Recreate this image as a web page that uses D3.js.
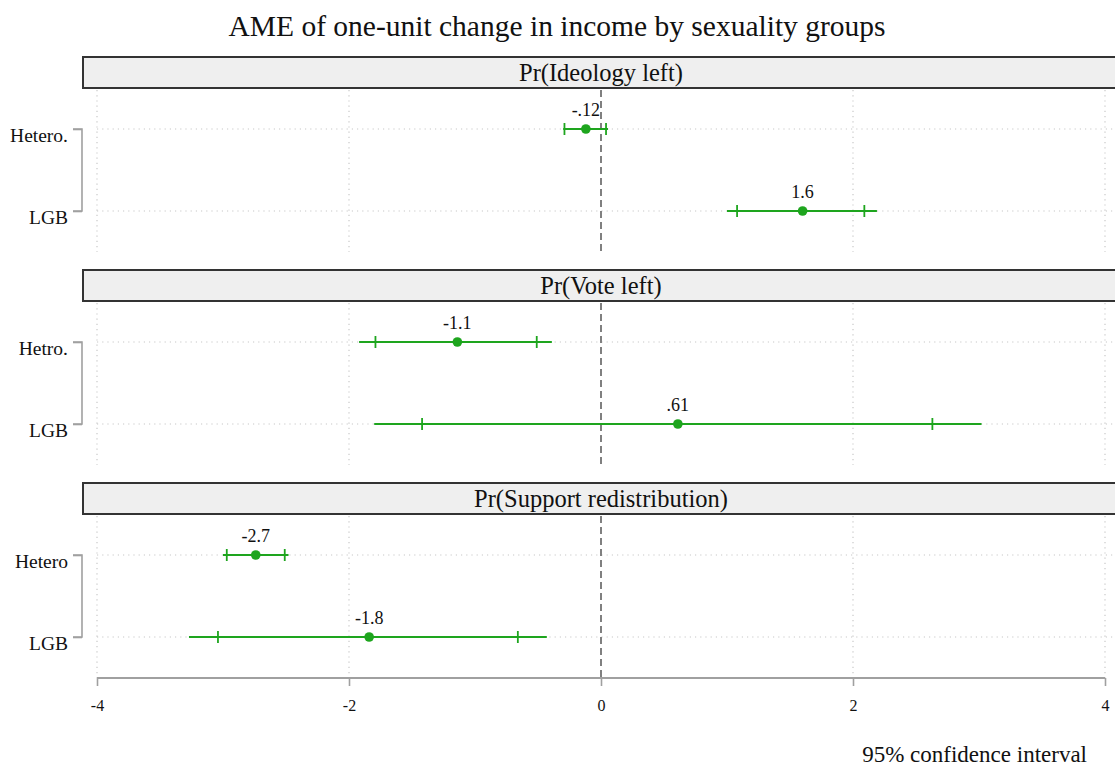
<!DOCTYPE html>
<html>
<head>
<meta charset="utf-8">
<script src="https://cdn.jsdelivr.net/npm/d3@7"></script>
<style>
  html, body { margin: 0; padding: 0; background: #fff; }
  svg text { font-family: "Liberation Serif", "DejaVu Serif", serif; fill: #111; }
</style>
</head>
<body>
<svg id="chart" width="1115" height="769"></svg>
<script>
// Average marginal effects of a one-unit change in income, by outcome and group
const panelTitles = ["Pr(Ideology left)", "Pr(Vote left)", "Pr(Support redistribution)"];
const groupLabels = [["Hetero.", "LGB"], ["Hetro.", "LGB"], ["Hetero", "LGB"]];
const estimates   = [[-0.12, 1.6], [-1.14, 0.61], [-2.74, -1.84]];
// outer interval (line extent)
const ciLower     = [[-0.30, 1.00], [-1.92, -1.80], [-3.00, -3.27]];
const ciUpper     = [[0.056, 2.19], [-0.39, 3.02], [-2.48, -0.43]];
// inner interval (cap marks)
const capLower    = [[-0.29, 1.08], [-1.79, -1.42], [-2.97, -3.04]];
const capUpper    = [[0.04, 2.09], [-0.51, 2.63], [-2.51, -0.66]];
const xTicks      = [-4, -2, 0, 2, 4];

const W = 1115, H = 769;
const plotLeft = 97, plotRight = 1105;
const panelTop0 = 57, panelPitch = 213, headerH = 31, plotH = 164;
const green = "#1ea51e";

const svg = d3.select("#chart");
const x = d3.scaleLinear().domain([-4, 4]).range([plotLeft, plotRight]);

// plain hyphen for negatives
const asciiMinus = s => s.replace(/\u2212/g, "-");
// value label: two significant digits, no leading zero
const fmtVal = v => asciiMinus(d3.format(".2")(v)).replace(/^(-?)0\./, "$1.");

svg.append("text")
  .attr("x", 557).attr("y", 36)
  .attr("text-anchor", "middle")
  .attr("font-size", 29.5)
  .text("AME of one-unit change in income by sexuality groups");

panelTitles.forEach((title, p) => {
  const top = panelTop0 + p * panelPitch;
  const pTop = top + headerH;
  const y = d3.scalePoint().domain(groupLabels[p]).range([pTop, pTop + plotH]).padding(0.5);
  const g = svg.append("g");

  // header strip
  g.append("rect")
    .attr("x", 83).attr("y", top)
    .attr("width", W - 83 + 10).attr("height", headerH)
    .attr("fill", "#efefef").attr("stroke", "#333").attr("stroke-width", 2);
  g.append("text")
    .attr("x", x(0)).attr("y", top + headerH / 2 + 8)
    .attr("text-anchor", "middle").attr("font-size", 24.5)
    .text(title);

  // vertical dotted grid
  g.selectAll("line.vgrid").data(xTicks.filter(t => t !== 0)).join("line")
    .attr("class", "vgrid")
    .attr("x1", d => x(d)).attr("x2", d => x(d))
    .attr("y1", pTop + 2).attr("y2", pTop + plotH)
    .attr("stroke", "#c8c8c8").attr("stroke-width", 1.2)
    .attr("stroke-dasharray", "1.2,4");

  // horizontal dotted grid at each group
  g.selectAll("line.hgrid").data(groupLabels[p]).join("line")
    .attr("class", "hgrid")
    .attr("x1", plotLeft).attr("x2", W)
    .attr("y1", d => y(d)).attr("y2", d => y(d))
    .attr("stroke", "#c8c8c8").attr("stroke-width", 1.2)
    .attr("stroke-dasharray", "1.2,4");

  // zero reference
  g.append("line")
    .attr("x1", x(0)).attr("x2", x(0))
    .attr("y1", pTop + 2).attr("y2", pTop + plotH)
    .attr("stroke", "#808080").attr("stroke-width", 2)
    .attr("stroke-dasharray", "7,4");

  // y axis (bracket)
  const yAxis = d3.axisLeft(y).tickSize(9).tickPadding(5);
  const ya = g.append("g").attr("transform", "translate(82,0)").call(yAxis);
  ya.select(".domain").attr("stroke", "#a0a0a0").attr("stroke-width", 1.6)
    .attr("d", `M-9,${y(groupLabels[p][0])}H0V${y(groupLabels[p][1])}H-9`);
  ya.selectAll(".tick line").attr("stroke", "#a0a0a0").attr("stroke-width", 1.6);
  ya.selectAll(".tick text")
    .attr("font-size", 19.5).attr("fill", "#111")
    .attr("font-family", "Liberation Serif, DejaVu Serif, serif")
    .attr("x", -14)
    .attr("dy", "0.62em");

  const rows = groupLabels[p].map((lab, i) => ({
    lab, est: estimates[p][i], lo: ciLower[p][i], hi: ciUpper[p][i],
    clo: capLower[p][i], chi: capUpper[p][i]
  }));

  g.selectAll("line.ci").data(rows).join("line")
    .attr("class", "ci")
    .attr("x1", d => x(d.lo)).attr("x2", d => x(d.hi))
    .attr("y1", d => y(d.lab)).attr("y2", d => y(d.lab))
    .attr("stroke", green).attr("stroke-width", 2.2);

  rows.forEach(d => {
    [d.clo, d.chi].forEach(v => {
      g.append("line")
        .attr("x1", x(v)).attr("x2", x(v))
        .attr("y1", y(d.lab) - 6).attr("y2", y(d.lab) + 6)
        .attr("stroke", green).attr("stroke-width", 1.8);
    });
  });

  g.selectAll("circle.pt").data(rows).join("circle")
    .attr("class", "pt")
    .attr("cx", d => x(d.est)).attr("cy", d => y(d.lab))
    .attr("r", 4.8).attr("fill", green);

  g.selectAll("text.val").data(rows).join("text")
    .attr("class", "val")
    .attr("x", d => x(d.est)).attr("y", d => y(d.lab) - 13)
    .attr("text-anchor", "middle").attr("font-size", 18)
    .text(d => fmtVal(d.est));
});

// x axis below last panel
const axisY = panelTop0 + 2 * panelPitch + headerH + plotH;
const xa = svg.append("g").attr("transform", `translate(0,${axisY})`)
  .call(d3.axisBottom(x).tickValues(xTicks).tickSize(8).tickPadding(14)
    .tickFormat(d => asciiMinus(d3.format("d")(d))));
xa.select(".domain").attr("stroke", "#a0a0a0").attr("stroke-width", 2).attr("d", `M${plotLeft},0H${plotRight}`);
xa.selectAll(".tick line").attr("stroke", "#a0a0a0").attr("stroke-width", 1.6);
xa.selectAll(".tick text").attr("font-size", 16).attr("fill", "#111")
  .attr("font-family", "Liberation Serif, DejaVu Serif, serif");

svg.append("text")
  .attr("x", 1087).attr("y", 762)
  .attr("text-anchor", "end").attr("font-size", 23)
  .text("95% confidence interval");
</script>
</body>
</html>
